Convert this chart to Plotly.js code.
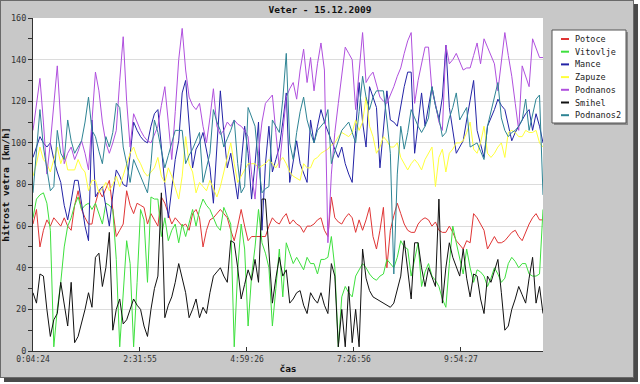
<!DOCTYPE html>
<html>
<head>
<meta charset="utf-8">
<script src="https://cdn.plot.ly/plotly-3.0.1.min.js"></script>
<style>
  body { margin: 0; background: #ffffff; }
  #frame { position: absolute; left: 0; top: 0; width: 632px; height: 376px; background: #c8c8c8;
           border: 1px solid #6a6a6a; box-shadow: 4px 4px 0 #4a4a4a; }
  #chart { position: absolute; left: 0; top: 0; width: 640px; height: 384px; }
</style>
</head>
<body>
<div id="frame"></div>
<div id="chart"></div>
<script>
// ---- data (wind speed, km/h) ----
const startTime = '0:04:24';
const sampleStepSec = 287;
const tickLabels = ['0:04:24', '2:31:55', '4:59:26', '7:26:56', '9:54:27'];
const seriesNames = ['Potoce', 'Vitovlje', 'Mance', 'Zapuze', 'Podnanos', 'Smihel', 'Podnanos2'];

const potoce = [61,68,50,58,63,60,64,62,60,64, 60,58,70,77,68,64,61,61,71,77, 74,78,82,68,55,58,61,77,70,66,
  71,70,69,61,66,63,60,74,71,66, 61,64,62,60,61,58,66,68,64,50, 58,63,64,66,68,66,64,58,53,60,
  68,60,53,55,55,55,55,55,60,64, 62,61,64,66,61,63,61,60,57,60, 60,61,63,64,58,55,74,64,62,61,
  64,66,64,57,63,58,63,69,55,49, 58,69,40,58,65,71,66,61,58,57, 57,61,63,64,63,60,62,58,57,57,
  60,57,53,51,49,53,52,66,64,61, 58,49,52,55,52,52,53,55,57,58, 55,53,57,61,64,66,63,63];

const vitovlje = [64,73,75,76,71,58,2,20,33,50, 60,64,70,74,68,70,71,68,71,66, 61,71,70,68,44,2,28,53,42,2,
  33,68,63,33,74,73,73,55,64,53, 58,61,52,61,55,62,68,60,68,73, 70,68,64,60,58,69,65,61,2,39,
  61,49,12,36,50,68,52,47,40,12, 30,49,26,52,47,42,45,42,39,45, 42,42,37,44,44,45,55,40,2,26,
  31,28,26,36,39,42,40,37,35,34, 36,37,44,42,40,45,53,50,49,36, 44,52,31,38,42,36,34,31,25,21,
  42,60,52,45,37,49,40,33,39,38, 36,31,35,40,37,33,35,42,45,43, 40,42,42,37,36,36,37,68];

const mance = [93,98,103,100,98,100,92,86,81,70, 63,72,82,82,70,60,53,111,74,77, 79,70,60,75,87,84,80,79,95,110,
  106,103,101,100,108,114,116,97,80,64, 78,92,101,124,130,111,88,97,100,105, 96,88,71,100,125,105,88,95,84,73,
  90,108,95,73,90,110,58,90,108,86, 92,98,110,124,81,92,101,90,85,81, 111,100,108,116,110,105,101,97,93,98,
  90,85,81,106,129,110,98,127,122,117, 88,105,125,111,110,108,117,127,134,134, 95,110,124,108,118,127,118,111,122,147,
  117,106,95,98,101,111,120,130,106,100, 93,108,112,116,121,118,116,108,101,105, 108,111,114,116,106,114,108,100];

const zapuze = [84,90,98,92,90,86,92,98,90,95, 87,87,87,92,88,86,77,82,82,76, 78,81,77,80,84,79,84,90,95,98,
  93,90,86,84,86,88,93,84,81,88, 84,79,73,84,103,90,86,76,81,79, 77,82,78,74,79,86,93,100,90,81,
  84,87,90,90,90,88,89,90,92,90, 88,91,93,90,86,84,83,82,90,88, 88,92,93,95,96,97,99,100,103,105,
  104,103,105,111,106,110,122,108,103,95, 98,103,101,98,98,100,93,90,87,90, 92,90,87,92,95,98,79,93,97,86,
  95,97,100,100,101,105,110,97,95,100, 108,95,93,95,98,100,93,105,106,105, 103,103,106,105,105,106,100,98];

const podnanos = [106,120,131,110,85,100,120,137,110,90, 95,98,92,96,101,95,87,110,134,125, 110,100,95,100,106,130,151,120,98,114,
  110,106,103,101,100,104,108,118,127,110, 92,115,140,155,135,122,118,116,119,108, 100,112,126,108,104,106,110,108,111,109,
  108,106,103,85,73,95,110,119,121,123, 105,88,105,122,126,129,121,135,145,129, 141,125,138,148,135,52,85,105,119,132,
  146,143,140,116,135,153,129,132,134,128, 122,120,119,123,127,132,136,143,149,153, 119,130,138,146,146,125,119,110,106,147,
  138,140,143,139,135,136,136,142,148,138, 150,146,142,138,125,140,153,142,132,119, 106,137,132,127,150,145,141,141];

const smihel = [28,23,37,36,20,7,15,18,33,22, 12,33,4,7,13,20,28,21,45,47, 31,40,57,10,20,25,13,15,20,25,
  22,20,12,7,20,30,36,76,16,22, 26,33,42,35,28,16,20,25,16,21, 18,28,36,38,40,36,33,53,52,40,
  25,32,39,34,44,33,73,73,50,23, 35,45,36,39,23,25,28,29,22,18, 28,25,23,28,22,18,42,36,2,20,
  2,31,4,20,2,49,35,29,26,25, 24,23,22,21,23,30,36,53,40,25, 52,52,40,31,40,35,31,73,23,40,
  52,45,40,36,49,35,26,37,36,25, 18,36,33,38,44,28,10,12,20,25, 31,27,23,35,45,23,31,18];

const podnanos2 = [76,95,116,98,88,77,79,106,95,92, 111,101,95,98,101,110,122,106,103,96, 90,103,98,105,119,117,98,90,81,92,
  88,84,80,76,90,111,105,96,88,94, 100,106,106,106,90,94,97,101,105,81, 88,95,116,110,106,98,102,106,111,90,
  76,79,117,112,108,90,76,78,79,111, 108,105,121,143,100,92,105,115,122,111, 105,100,106,108,110,116,90,96,101,106,
  108,110,105,100,115,132,122,116,122,125, 125,125,111,95,37,85,108,97,105,116, 112,108,105,108,112,127,118,112,103,105,
  112,117,124,111,114,117,98,99,100,96, 92,108,115,122,129,112,106,103,105,106, 108,111,121,106,114,121,123,75];

const seriesValues = [potoce, vitovlje, mance, zapuze, podnanos, smihel, podnanos2];
const seriesColors = ['#e03535', '#3ee03e', '#2323a6', '#ffff3a', '#b050de', '#111111', '#2e8494'];

// ---- helpers ----
function toSec(s) { const p = s.split(':').map(Number); return p[0] * 3600 + p[1] * 60 + p[2]; }
const t0 = toSec(startTime);
const nPts = potoce.length;
const xs = potoce.map((_, i) => t0 + i * sampleStepSec);

const MONO = 'DejaVu Sans Mono, Liberation Mono, monospace';

const traces = seriesNames.map((name, k) => ({
  type: 'scatter', mode: 'lines', name: name,
  x: xs, y: seriesValues[k],
  line: { color: seriesColors[k], width: 1 },
  showlegend: false, hoverinfo: 'skip'
}));

// plot area geometry (px) used for the hand-drawn legend box
const PL = 33, PR = 543, PT = 18, PB = 351;
const px2x = px => (px - PL) / (PR - PL);
const px2y = py => (PB - py) / (PB - PT);

const shapes = [
  { type: 'rect', xref: 'paper', yref: 'paper', x0: px2x(554), x1: px2x(628), y0: px2y(125), y1: px2y(32),
    fillcolor: '#8a8a8a', line: { width: 0 } },
  { type: 'rect', xref: 'paper', yref: 'paper', x0: px2x(552), x1: px2x(626), y0: px2y(123), y1: px2y(30),
    fillcolor: '#ffffff', line: { color: '#555555', width: 1 } }
];
const annotations = [];
seriesNames.forEach((name, k) => {
  const rowY = 39 + k * 12.7;
  shapes.push({ type: 'line', xref: 'paper', yref: 'paper', x0: px2x(561), x1: px2x(569), y0: px2y(rowY), y1: px2y(rowY),
    line: { color: seriesColors[k], width: 2 } });
  annotations.push({ xref: 'paper', yref: 'paper', x: px2x(573), y: px2y(rowY), xanchor: 'left', yanchor: 'middle',
    text: name, showarrow: false, font: { family: MONO, size: 8.5, color: '#222' } });
});

const layout = {
  width: 640, height: 384,
  margin: { l: PL, r: 640 - PR, t: PT, b: 384 - PB, autoexpand: false },
  paper_bgcolor: 'rgba(0,0,0,0)', plot_bgcolor: '#ffffff',
  showlegend: false,
  title: { text: 'Veter - 15.12.2009', font: { family: MONO, size: 9.5, weight: 'bold', color: '#111' },
           xref: 'container', x: 0.5, xanchor: 'center', yref: 'container', y: 1 - 10 / 384, yanchor: 'middle' },
  xaxis: {
    type: 'linear', range: [t0, xs[nPts - 1]],
    tickvals: tickLabels.map(toSec), ticktext: tickLabels,
    ticks: 'inside', ticklen: 4, tickcolor: '#333',
    showline: true, linecolor: '#333', linewidth: 1, showgrid: false, zeroline: false,
    tickfont: { family: MONO, size: 8, color: '#333' },
    title: { text: 'čas', font: { family: MONO, size: 9.5, weight: 'bold', color: '#111' }, standoff: 2 }
  },
  yaxis: {
    range: [0, 160], tick0: 0, dtick: 20,
    ticks: 'outside', ticklen: 4, tickcolor: '#333',
    minor: { dtick: 10, ticks: 'outside', ticklen: 4, tickcolor: '#333', showgrid: false },
    showline: true, linecolor: '#333', linewidth: 1, showgrid: true, gridcolor: '#dcdcdc', zeroline: false,
    tickfont: { family: MONO, size: 8.5, color: '#333' },
    title: { text: 'hitrost vetra [km/h]', font: { family: MONO, size: 9.5, weight: 'bold', color: '#111' }, standoff: 4 }
  },
  shapes: shapes, annotations: annotations
};

Plotly.newPlot('chart', traces, layout, { staticPlot: true, displayModeBar: false });
</script>
</body>
</html>
